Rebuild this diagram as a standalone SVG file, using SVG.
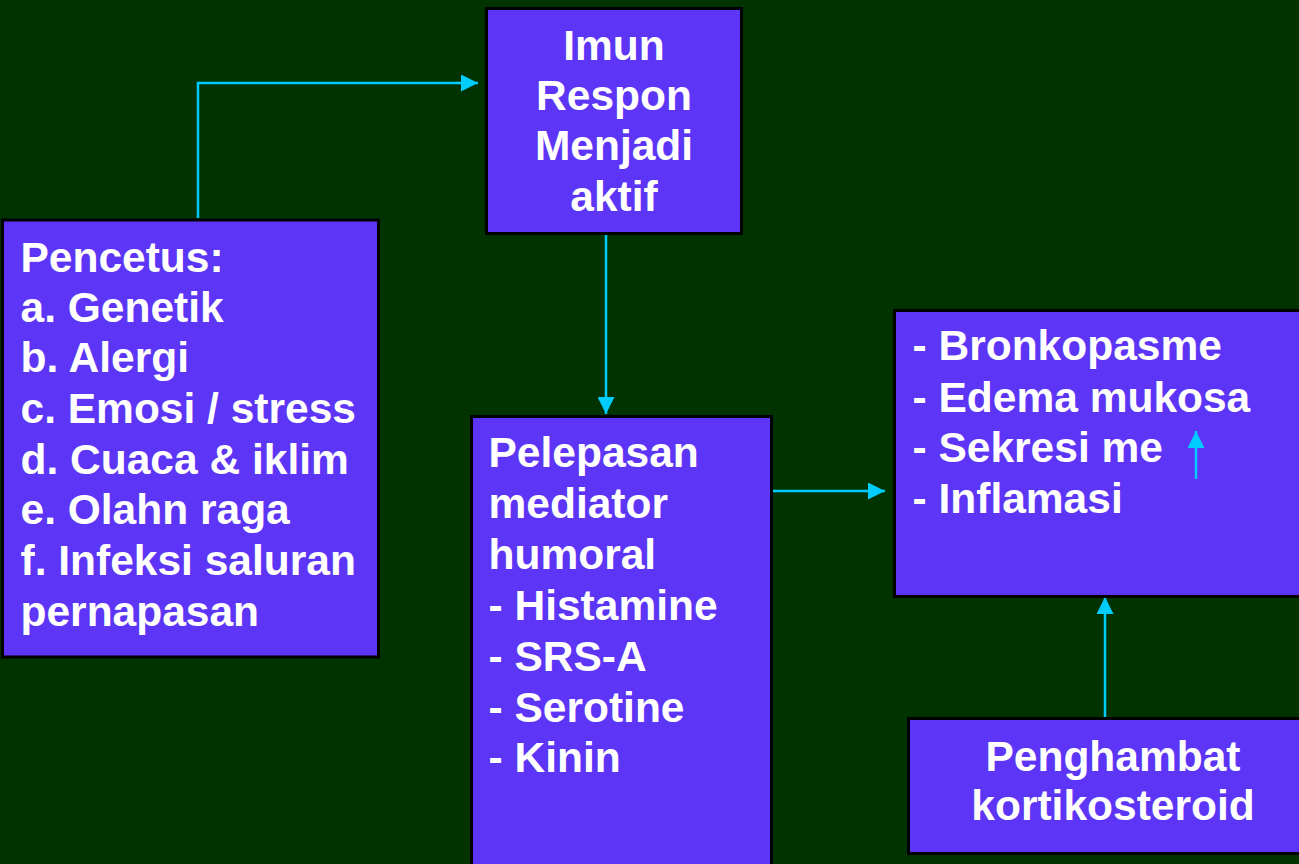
<svg xmlns="http://www.w3.org/2000/svg" width="1299" height="864" viewBox="0 0 1299 864">
  <defs>
    <style>
      .box { fill: #5c35f6; stroke: #000000; stroke-width: 3; }
      .t { font-family: "Liberation Sans", Arial, sans-serif; font-weight: bold; font-size: 42.5px; fill: #ffffff; }
      .c { text-anchor: middle; }
      .conn { fill: none; stroke: #00ccff; stroke-width: 2.5; }
    </style>
    <marker id="ah" markerUnits="userSpaceOnUse" markerWidth="18" markerHeight="17" refX="17" refY="8.5" orient="auto">
      <path d="M0,0 L17,8.5 L0,17 z" fill="#00ccff"/>
    </marker>
  </defs>
  <rect x="0" y="0" width="1299" height="864" fill="#003300"/>

  <g id="connectors">
    <polyline class="conn" points="198,218 198,83 478,83" marker-end="url(#ah)"/>
    <line class="conn" x1="606" y1="235" x2="606" y2="414" marker-end="url(#ah)"/>
    <line class="conn" x1="773" y1="491" x2="885" y2="491" marker-end="url(#ah)"/>
    <line class="conn" x1="1105" y1="717" x2="1105" y2="597" marker-end="url(#ah)"/>
  </g>

  <g id="node-pencetus">
    <rect class="box" x="2.5" y="220" width="376" height="437"/>
    <text class="t" x="20.5" y="272">Pencetus:</text>
    <text class="t" x="20.5" y="322">a. Genetik</text>
    <text class="t" x="20.5" y="372">b. Alergi</text>
    <text class="t" x="20.5" y="423">c. Emosi / stress</text>
    <text class="t" x="20.5" y="474">d. Cuaca &amp; iklim</text>
    <text class="t" x="20.5" y="524">e. Olahn raga</text>
    <text class="t" x="20.5" y="575">f. Infeksi saluran</text>
    <text class="t" x="20.5" y="626">pernapasan</text>
  </g>

  <g id="node-imun">
    <rect class="box" x="486.5" y="8.5" width="255" height="225"/>
    <text class="t c" x="614" y="60">Imun</text>
    <text class="t c" x="614" y="110">Respon</text>
    <text class="t c" x="614" y="160">Menjadi</text>
    <text class="t c" x="614" y="211">aktif</text>
  </g>

  <g id="node-pelepasan">
    <rect class="box" x="471.5" y="416.5" width="300" height="460"/>
    <text class="t" x="488.5" y="467">Pelepasan</text>
    <text class="t" x="488.5" y="518">mediator</text>
    <text class="t" x="488.5" y="569">humoral</text>
    <text class="t" x="488.5" y="620">- Histamine</text>
    <text class="t" x="488.5" y="671">- SRS-A</text>
    <text class="t" x="488.5" y="722">- Serotine</text>
    <text class="t" x="488.5" y="772">- Kinin</text>
  </g>

  <g id="node-gejala">
    <rect class="box" x="894.5" y="310.5" width="420" height="286"/>
    <text class="t" x="912.5" y="360">- Bronkopasme</text>
    <text class="t" x="912.5" y="412">- Edema mukosa</text>
    <text class="t" x="912.5" y="462">- Sekresi me</text>
    <text class="t" x="912.5" y="513">- Inflamasi</text>
    <line class="conn" x1="1196" y1="479" x2="1196" y2="431" marker-end="url(#ah)"/>
  </g>

  <g id="node-penghambat">
    <rect class="box" x="908.5" y="718.5" width="420" height="135"/>
    <text class="t c" x="1113" y="771">Penghambat</text>
    <text class="t c" x="1113" y="820">kortikosteroid</text>
  </g>
</svg>
